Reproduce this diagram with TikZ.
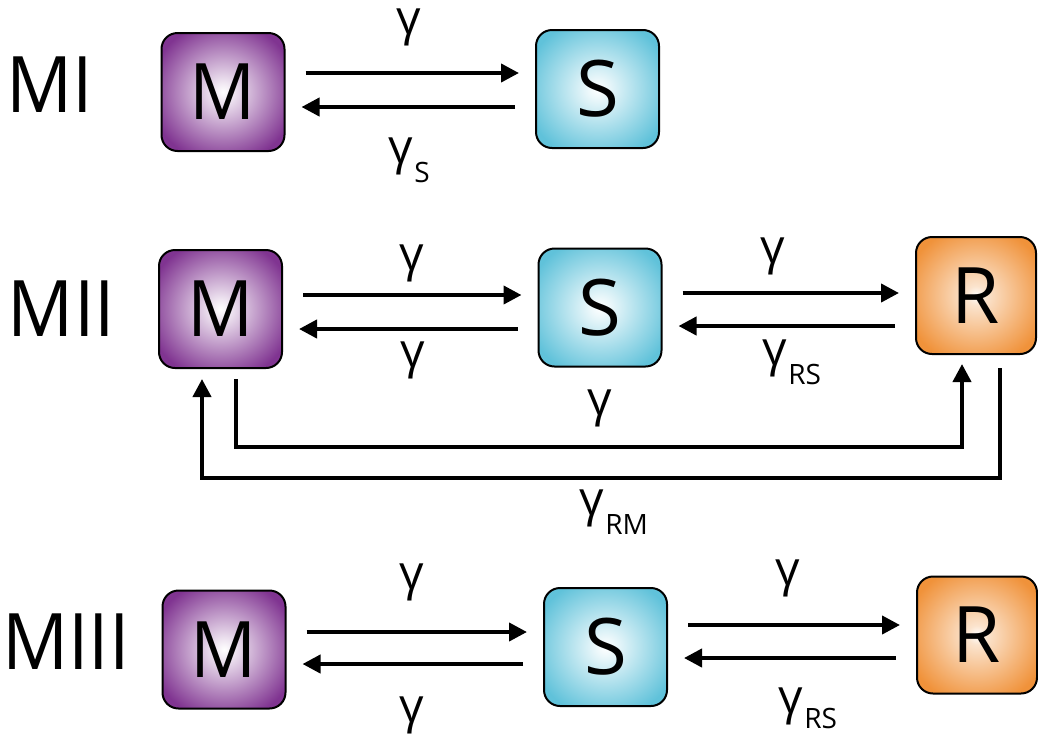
\documentclass[tikz,border=0pt]{standalone}
\usepackage{fontspec}
\setmainfont{Open Sans}
\usetikzlibrary{arrows.meta,calc}
\definecolor{mpurple}{RGB}{128,52,145}
\definecolor{scyan}{RGB}{96,194,218}
\definecolor{rorange}{RGB}{240,146,58}
\pgfdeclareradialshading{mglow}{\pgfpointorigin}{color(0bp)=(white); color(4bp)=(mpurple!12!white); color(30bp)=(mpurple); color(50bp)=(mpurple)}
\pgfdeclareradialshading{sglow}{\pgfpointorigin}{color(0bp)=(white); color(4bp)=(scyan!12!white); color(30bp)=(scyan); color(50bp)=(scyan)}
\pgfdeclareradialshading{rglow}{\pgfpointorigin}{color(0bp)=(white); color(4bp)=(rorange!25!white); color(30bp)=(rorange); color(50bp)=(rorange)}
\newcommand\gsub[2][19pt]{γ\rlap{\kern1pt\smash{\raisebox{-#1}{\fontsize{28}{28}\selectfont #2}}}}
\newcommand\narrow[1]{\scalebox{0.94}[1]{#1}}
\tikzset{
  box/.style={draw=black, line width=2pt, rounded corners=16pt, minimum width=123pt,
    minimum height=118pt, inner sep=0pt, shade, font=\fontsize{78}{78}\selectfont},
  mbox/.style={box, shading=mglow},
  sbox/.style={box, shading=sglow},
  rbox/.style={box, shading=rglow, minimum height=117pt, minimum width=120pt},
  lbl/.style={font=\fontsize{78}{78}\selectfont, inner sep=0pt},
  gam/.style={font=\fontsize{48}{48}\selectfont, inner sep=0pt},
  arr/.style={line width=4pt, -{Triangle[length=18pt,width=18pt]}},
  pair/.style={arr, shorten <=20pt, shorten >=16pt}
}
\begin{document}
\begin{tikzpicture}[x=1pt,y=-1pt]
\useasboundingbox (0,0) rectangle (1038,737);
% ---- MI ----
\node[lbl] (L1) at (50,85) {\narrow{MI}};
\node[mbox] (M1) at (223,92) {\narrow{M}};
\node[sbox] (S1) at (597.5,89) {S};
\draw[pair] (M1.east |- 0,73) -- (S1.west |- 0,73);
\draw[pair] (S1.west |- 0,107) -- (M1.east |- 0,107);
\node[gam] (g1) at (409,27) {γ};
\node[gam] (g1s) at (401,156.5) {\gsub{S}};
% ---- MII ----
\node[lbl] (L2) at (61.5,309) {\narrow{MII}};
\node[mbox] (M2) at (220.5,309) {\narrow{M}};
\node[sbox] (S2) at (600,307.5) {S};
\node[rbox] (R2) at (976,295.5) {R};
\draw[pair] (M2.east |- 0,295) -- (S2.west |- 0,295);
\draw[pair] (S2.west |- 0,329) -- (M2.east |- 0,329);
\draw[pair] (S2.east |- 0,293) -- (R2.west |- 0,293);
\draw[pair] (R2.west |- 0,326) -- (S2.east |- 0,326);
\draw[arr] ([xshift=15.5pt,yshift=-10pt]M2.south) -- ++(0,68) -| ([xshift=-14pt,yshift=-9pt]R2.south);
\draw[arr] ([xshift=24pt,yshift=-13pt]R2.south) -- ++(0,110) -| ([xshift=-18.5pt,yshift=-10pt]M2.south);
\node[gam] (g2a) at (412,263.5) {γ};
\node[gam] (g2b) at (413,360.5) {γ};
\node[gam] (g2c) at (773,256.5) {γ};
\node[gam] (g2d) at (775,358.5) {\gsub{RS}};
\node[gam] (g2e) at (600,408.5) {γ};
\node[gam] (g2f) at (592,508.5) {\gsub{RM}};
% ---- MIII ----
\node[lbl] (L3) at (66,641.5) {\narrow{MIII}};
\node[mbox] (M3) at (224,649.5) {\narrow{M}};
\node[sbox] (S3) at (605.5,647) {S};
\node[rbox] (R3) at (977,635) {R};
\draw[pair] (M3.east |- 0,632) -- (S3.west |- 0,632);
\draw[pair] (S3.west |- 0,664) -- (M3.east |- 0,664);
\draw[pair] (S3.east |- 0,625) -- (R3.west |- 0,625);
\draw[pair] (R3.west |- 0,658) -- (S3.east |- 0,658);
\node[gam] (g3a) at (412,582.5) {γ};
\node[gam] (g3b) at (412,715) {γ};
\node[gam] (g3c) at (788,578.5) {γ};
\node[gam] (g3d) at (791,706) {\gsub[15pt]{RS}};
\end{tikzpicture}
\end{document}
